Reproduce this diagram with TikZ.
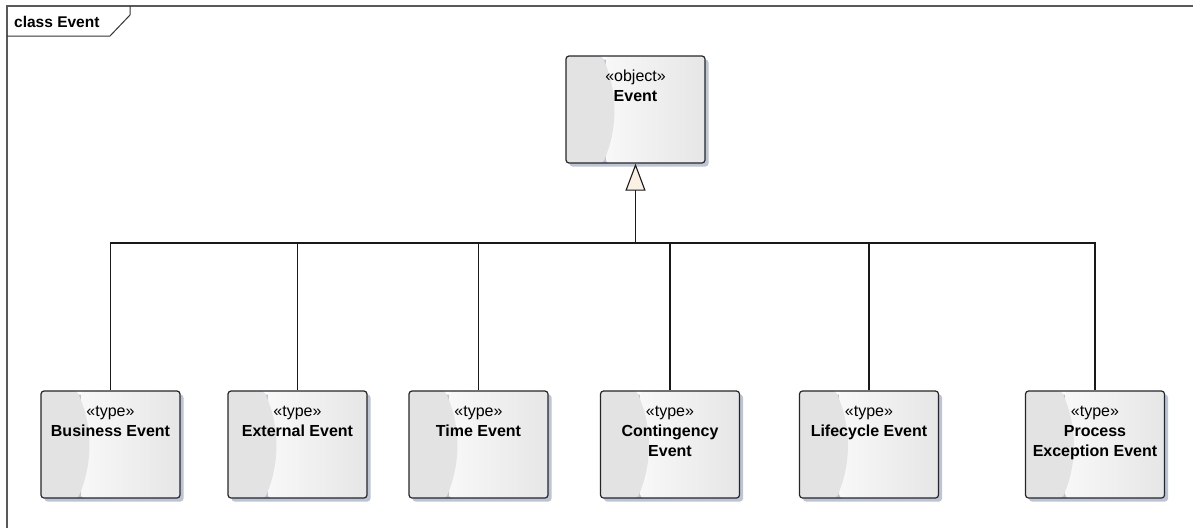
\documentclass[tikz,border=0pt]{standalone}
\usepackage{fontspec}
\setmainfont{Liberation Sans}
\usetikzlibrary{arrows.meta,positioning,shadows}
\definecolor{shadowc}{RGB}{188,196,214}
\definecolor{leftc}{RGB}{227,227,227}
\definecolor{rightc}{RGB}{230,230,230}
\definecolor{tipc}{RGB}{251,240,228}
\newcommand{\umltext}[2]{\parbox[t][107pt][t]{137pt}{\centering\fontsize{16}{20}\selectfont
\rule{0pt}{25pt}\guillemotleft#1\guillemotright\\ \textbf{#2}}}

\begin{document}
\begin{tikzpicture}[x=1pt,y=-1pt,
umlbox/.style={draw=black!85,line width=1.2pt,rounded corners=3pt,
minimum width=139pt,minimum height=107pt,inner sep=0pt,
drop shadow={shadow xshift=3.5pt,shadow yshift=-3.5pt,fill=shadowc,opacity=1},
path picture={
\shade[left color=white,right color=rightc] ([xshift=40pt]path picture bounding box.south west) rectangle (path picture bounding box.north east);
\fill[leftc] (path picture bounding box.north west) -- ([xshift=36pt]path picture bounding box.north west)
.. controls ([xshift=52pt,yshift=-35pt]path picture bounding box.north west) and ([xshift=52pt,yshift=35pt]path picture bounding box.south west)
.. ([xshift=37pt]path picture bounding box.south west) -- (path picture bounding box.south west) -- cycle;}},
conn/.style={draw=black!90,line width=1.1pt},
gen/.style={conn,-{Triangle[length=27pt,width=20pt,fill=tipc]}}]
\useasboundingbox (0,0) rectangle (1193,528);
\draw[black!65,line width=1.1pt] (7,528) -- (7,6) -- (1193,6);
\draw[black!80,line width=1pt] (7,36) -- (110,36) -- (130,15) -- (130,6);
\node[anchor=base west,inner sep=0pt,font=\fontsize{15.5}{18}\selectfont\bfseries] (T) at (14,27) {class Event};
\node[umlbox] (E0) at (635.5,109.5) {\umltext{object}{Event}};
\node[umlbox] (E1) at (110.5,444.5) {\umltext{type}{Business Event}};
\node[umlbox] (E2) at (297.5,444.5) {\umltext{type}{External Event}};
\node[umlbox] (E3) at (478.5,444.5) {\umltext{type}{Time Event}};
\node[umlbox] (E4) at (670,444.5) {\umltext{type}{Contingency\\ Event}};
\node[umlbox] (E5) at (869,444.5) {\umltext{type}{Lifecycle Event}};
\node[umlbox] (E6) at (1095,444.5) {\umltext{type}{Process\\ Exception Event}};
\coordinate (J) at (635.5,243);
\draw[gen] (J) -- (E0);
\draw[conn] (E1.north) |- (J) -| (E6.north);
\draw[conn] (E2.north) -- (E2.north |- J);
\draw[conn] (E3.north) -- (E3.north |- J);
\draw[conn] (E4.north) -- (E4.north |- J);
\draw[conn] (E5.north) -- (E5.north |- J);
\end{tikzpicture}
\end{document}
